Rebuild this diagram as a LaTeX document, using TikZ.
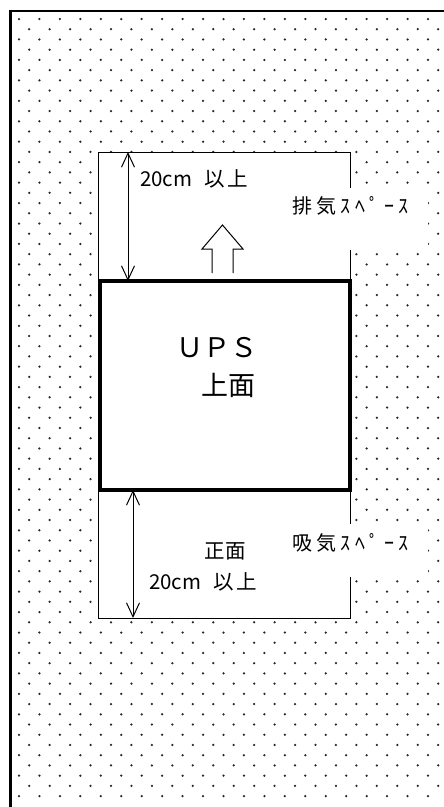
\documentclass[tikz,border=0pt]{standalone}
\usepackage{fontspec}
\setmainfont{Noto Sans CJK JP}
\newfontfamily\jpspaced[LetterSpace=22]{Noto Sans CJK JP}
\usetikzlibrary{arrows.meta}
\begin{document}
\begin{tikzpicture}[x=1pt,y=-1pt,
  dotfill/.style={fill=black!85, draw=none},
  thinline/.style={draw=black, line width=1pt},
  whitebox/.style={fill=white, draw=none},
  dimarrow/.style={draw=black, line width=1pt, {Straight Barb[length=14pt,width=13pt]}-{Straight Barb[length=14pt,width=13pt]}},
  lbl/.style={inner sep=0pt, anchor=west, font=\fontsize{20.5pt}{23pt}\selectfont},
  spacedlbl/.style={inner sep=0pt, anchor=west, font=\jpspaced\fontsize{20pt}{23pt}\selectfont},
  bigl/.style={inner sep=0pt, anchor=west, font=\fontsize{27pt}{30pt}\selectfont}]
\useasboundingbox (0,0) rectangle (444,807);
\fill[white] (0,0) rectangle (444,807);
% dot pattern
\foreach \j in {0,...,38} {
  \foreach \i in {0,...,20} {
    \fill[dotfill] ({19+20.45*\i},{19+20.45*\j}) circle (1.25);
  }
}
\foreach \j in {0,...,37} {
  \foreach \i in {0,...,20} {
    \fill[dotfill] ({29.2+20.45*\i},{29.2+20.45*\j}) circle (1.25);
  }
}
% clearance area
\filldraw[fill=white, thinline] (98,152) rectangle (350,618);
% label backgrounds
\fill[whitebox] (280,188) rectangle (427.5,250);
\fill[whitebox] (280,524) rectangle (427.5,577);
% UPS box
\node[draw=black, line width=4.5pt, minimum width=250pt, minimum height=209pt, inner sep=0pt] (ups) at (225,385.5) {};
% dimension arrows
\coordinate (ut) at (128,152);
\coordinate (ub) at (128,281);
\coordinate (lt) at (133,490);
\coordinate (lb) at (133,618);
\draw[dimarrow] (ut) -- (ub);
\draw[dimarrow] (lt) -- (lb);
% hollow exhaust arrow
\draw[black, line width=1pt, line join=miter] (212,273) -- (212,249) -- (202,249) -- (222.5,225) -- (243,249) -- (233,249) -- (233,273);
% texts
\node[lbl] (t1) at (140,179) {20cm\hspace{12pt}以\hspace{3pt}上};
\node[spacedlbl] (t2) at (292,206) {排気ｽﾍﾟｰｽ};
\node[bigl] (t3) at (176,348) {ＵＰＳ};
\node[bigl] (t4) at (201,385) {上面};
\node[lbl] (t5) at (204,551) {正\hspace{1pt}面};
\node[lbl] (t6) at (149,582) {20cm\hspace{12pt}以\hspace{3pt}上};
\node[spacedlbl] (t7) at (292,543) {吸気ｽﾍﾟｰｽ};
% frame
\draw[black, line width=2.6pt] (9,11) -- (444,11);
\draw[black, line width=3pt] (10.5,9.7) -- (10.5,807);
\end{tikzpicture}
\end{document}
